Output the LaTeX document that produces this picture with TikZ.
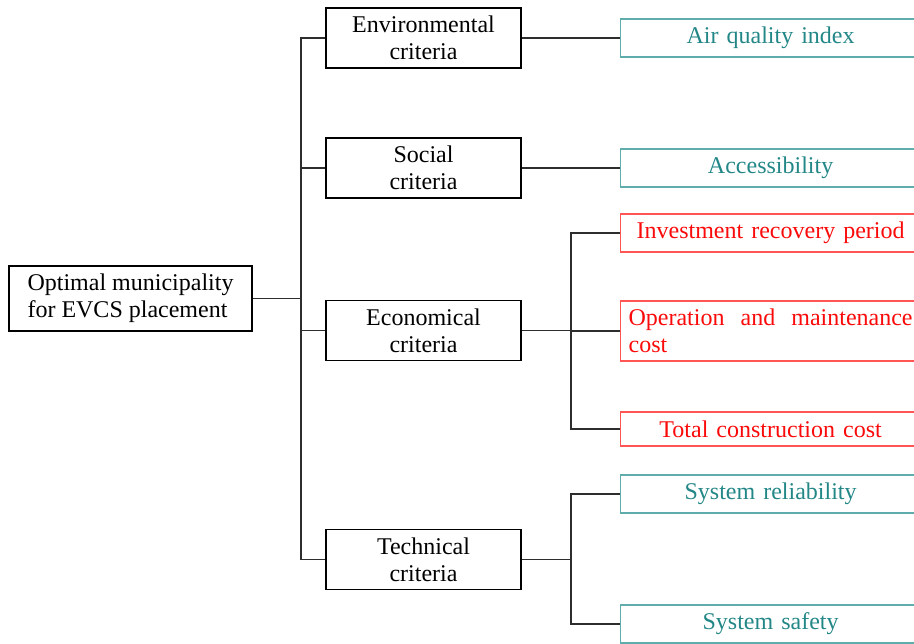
\documentclass[tikz,border=0pt]{standalone}
\usepackage{fontspec}
\setmainfont{Liberation Serif}
\usetikzlibrary{positioning}

\definecolor{tealtext}{RGB}{35,135,135}
\definecolor{tealline}{RGB}{95,172,172}
\definecolor{redtext}{RGB}{250,10,10}
\definecolor{redline}{RGB}{255,85,85}
\definecolor{wire}{RGB}{45,45,45}

\begin{document}
\begin{tikzpicture}[x = 0.5pt, y = -0.5pt, font = \fontsize{12}{13.5}\selectfont,
	wire/.style = {draw = wire, line width = 0.85pt},
	goal/.style = {draw, line width = 0.6pt, minimum width = 121.5pt, minimum height = 32.5pt, align = left, inner sep = 2pt},
	crit/.style = {draw, line width = 0.6pt, minimum width = 97.5pt, minimum height = 30pt, align = center, inner sep = 2pt},
	leaf/.style = {draw, line width = 0.6pt, anchor = west, text width = 142pt, inner xsep = 4pt, inner ysep = 0pt, minimum height = 19pt, align = center},
	tealleaf/.style = {leaf, draw = tealline, text = tealtext},
	redleaf/.style = {leaf, draw = redline, text = redtext}]

\useasboundingbox (0,0) rectangle (914,643);
\clip (0,0) rectangle (914,643);

\node[goal]							(root)		at (130.5,298.5)	{Optimal municipality\\for EVCS placement};

\node[crit]							(env)		at (423.5,38)		{Environmental\\criteria};
\node[crit]							(social)	at (423.5,168)		{Social\\criteria};
\node[crit]							(econ)		at (423.5,330.5)	{Economical\\criteria};
\node[crit]							(tech)		at (423.5,559.5)	{Technical\\criteria};

\node[tealleaf]						(air)		at (620,38)		{Air quality index};
\node[tealleaf]						(access)	at (620,168)		{Accessibility};
\node[redleaf]						(invest)	at (620,233)		{Investment recovery period};
\node[redleaf, align = justify, minimum height = 30pt]	(operation)	at (620,331)		{Operation and maintenance cost};
\node[redleaf, minimum height = 17pt]	(total)		at (620,429)		{Total construction cost};
\node[tealleaf]						(reliab)	at (620,494)		{System reliability};
\node[tealleaf]						(safety)	at (620,624)		{System safety};

\coordinate (trunk)		at (301,298.5);
\coordinate (econfork)	at (571,330.5);
\coordinate (techfork)	at (571,559.5);

\path[wire]	(root.east)	-- (trunk);
\foreach \c in {env, social, econ, tech}
	\path[wire]	(trunk)	|- (\c.west);

\path[wire]	(env.east)		-- (air.west);
\path[wire]	(social.east)	-- (access.west);

\path[wire]	(econ.east)	-- (econfork);
\foreach \l in {invest, operation, total}
	\path[wire]	(econfork)	|- (\l.west);

\path[wire]	(tech.east)	-- (techfork);
\foreach \l in {reliab, safety}
	\path[wire]	(techfork)	|- (\l.west);

\end{tikzpicture}
\end{document}
